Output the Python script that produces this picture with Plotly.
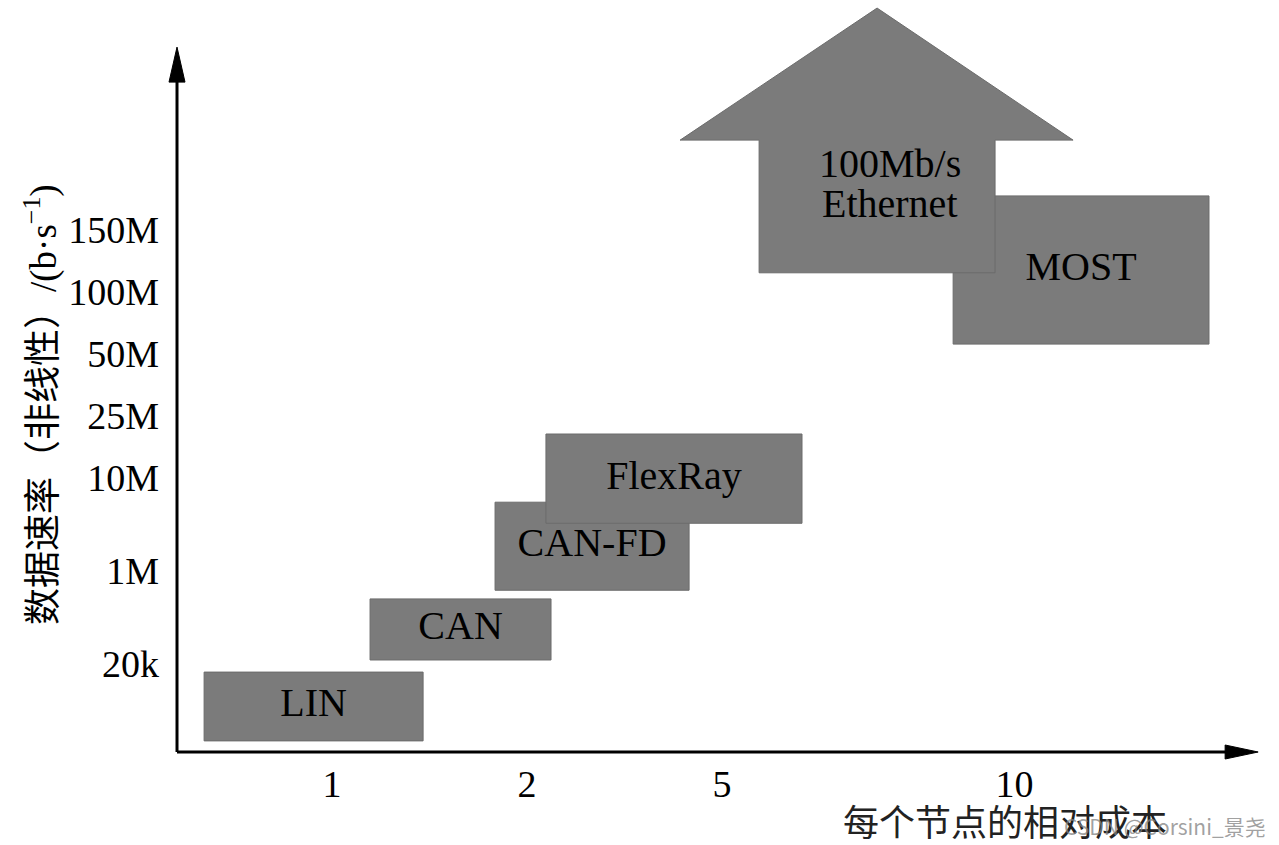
import plotly.graph_objects as go

# ---- data (diagram positions on a non-linear cost / rate scale) ----
labels = ["LIN", "CAN", "CAN-FD", "FlexRay", "MOST"]
x_start = [0.344, 1.195, 1.836, 2.097, 4.185]
x_end = [1.467, 2.123, 2.831, 3.41, 5.497]
y_low = [-1.24, 0.065, 1.19, 2.27, 5.16]
y_high = [-0.13, 1.05, 2.61, 3.71, 7.55]

eth_label = ["100Mb/s", "Ethernet"]
eth_body_x = [3.19, 4.40]
eth_body_y = [6.31, 8.45]
eth_head_x = [2.785, 4.80]
eth_tip = [3.795, 10.58]

cost_ticks = ["1", "2", "5", "10"]
cost_pos = [1, 2, 3, 4.5]
rate_ticks = ["20k", "1M", "10M", "25M", "50M", "100M", "150M"]
rate_pos = [0, 1.5, 3, 4, 5, 6, 7]

W, H = 1279, 845
XR = [-0.7026, 5.856]
YR = [-2.919, 10.71]
FILL = "#7b7b7b"
SERIF = "Liberation Serif, Times New Roman, serif"
CJK = "Noto Sans CJK SC"

fig = go.Figure()

shapes = []
order = [4, 0, 1, 2, 3]
for i in order:
    shapes.append(dict(type="rect", x0=x_start[i], x1=x_end[i], y0=y_low[i], y1=y_high[i],
                       fillcolor=FILL, line=dict(color="#6c6c6c", width=1), layer="below"))
p = (f"M {eth_body_x[0]},{eth_body_y[0]} L {eth_body_x[0]},{eth_body_y[1]} "
     f"L {eth_head_x[0]},{eth_body_y[1]} L {eth_tip[0]},{eth_tip[1]} "
     f"L {eth_head_x[1]},{eth_body_y[1]} L {eth_body_x[1]},{eth_body_y[1]} "
     f"L {eth_body_x[1]},{eth_body_y[0]} Z")
shapes.append(dict(type="path", path=p, fillcolor=FILL, line=dict(color="#6c6c6c", width=1), layer="below"))

# axes with arrows (layout)
ax_x0 = 0.2051
ax_y0 = -1.419
ax_ytop = 9.95
ax_xend = 5.749
shapes.append(dict(type="line", x0=ax_x0, x1=ax_xend - 0.12, y0=ax_y0, y1=ax_y0,
                   line=dict(color="black", width=3), layer="above"))
shapes.append(dict(type="line", x0=ax_x0, x1=ax_x0, y0=ax_y0, y1=ax_ytop - 0.4,
                   line=dict(color="black", width=3), layer="above"))
dx = 8 / 195.0
dy = 7 / 62.0
shapes.append(dict(type="path",
                   path=f"M {ax_x0 - dx},{ax_ytop - 35/62} L {ax_x0},{ax_ytop} L {ax_x0 + dx},{ax_ytop - 35/62} Z",
                   fillcolor="black", line=dict(color="black", width=1), layer="above"))
shapes.append(dict(type="path",
                   path=f"M {ax_xend - 33/195},{ax_y0 + dy} L {ax_xend},{ax_y0} L {ax_xend - 33/195},{ax_y0 - dy} Z",
                   fillcolor="black", line=dict(color="black", width=1), layer="above"))

cx = [(a + b) / 2 for a, b in zip(x_start, x_end)]
cy = [(a + b) / 2 for a, b in zip(y_low, y_high)]
fig.add_trace(go.Scatter(x=cx, y=cy, mode="text", text=labels,
                         textfont=dict(family=SERIF, size=40, color="black"),
                         hoverinfo="skip", showlegend=False, cliponaxis=False))

ecx = (eth_body_x[0] + eth_body_x[1]) / 2
ecy = (eth_body_y[0] + eth_body_y[1]) / 2
annotations = [
    dict(x=ecx, y=ecy, xref="x", yref="y", text=eth_label[0], showarrow=False,
         xshift=13, yshift=43, xanchor="center", yanchor="middle",
         font=dict(family=SERIF, size=40, color="black")),
    dict(x=ecx, y=ecy, xref="x", yref="y", text=eth_label[1], showarrow=False,
         xshift=13, yshift=3, xanchor="center", yanchor="middle",
         font=dict(family=SERIF, size=40, color="black")),
    dict(x=40 / W, y=(H - 405) / H, xref="paper", yref="paper", textangle=-90,
         xanchor="center", yanchor="middle",
         text="数据速率（非线性）<span style='font-family:Liberation Serif'>/(b·s<sup>−1</sup>)</span>",
         showarrow=False, font=dict(family=CJK, size=37, color="black")),
    dict(x=1005 / W, y=(H - 820) / H, xref="paper", yref="paper",
         xanchor="center", yanchor="middle",
         text="每个节点的相对成本", showarrow=False,
         font=dict(family=CJK, size=36, color="#222")),
    dict(x=1165 / W, y=(H - 826) / H, xref="paper", yref="paper",
         xanchor="center", yanchor="middle",
         text="CSDN @Corsini_景尧", showarrow=False,
         font=dict(family=CJK, size=21, color="rgba(130,130,130,0.75)")),
]

fig.update_layout(
    width=W, height=H,
    margin=dict(l=0, r=0, t=0, b=0),
    paper_bgcolor="white", plot_bgcolor="white",
    shapes=shapes, annotations=annotations,
    showlegend=False,
    xaxis=dict(range=XR, domain=[0, 1], anchor="free", position=(H - 752) / H,
               showgrid=False, zeroline=False, showline=False,
               tickmode="array", tickvals=cost_pos, ticktext=cost_ticks,
               ticks="", ticklabelstandoff=6,
               tickfont=dict(family=SERIF, size=38, color="black"), fixedrange=True),
    yaxis=dict(range=YR, domain=[0, 1], anchor="free", position=177 / W,
               showgrid=False, zeroline=False, showline=False,
               tickmode="array", tickvals=rate_pos, ticktext=rate_ticks,
               ticks="", ticklabelstandoff=18,
               tickfont=dict(family=SERIF, size=38, color="black"), fixedrange=True),
)

fig.write_html("out.html", config={"displayModeBar": False},
               post_script="document.body.style.margin='0px';document.body.style.overflow='hidden';")
